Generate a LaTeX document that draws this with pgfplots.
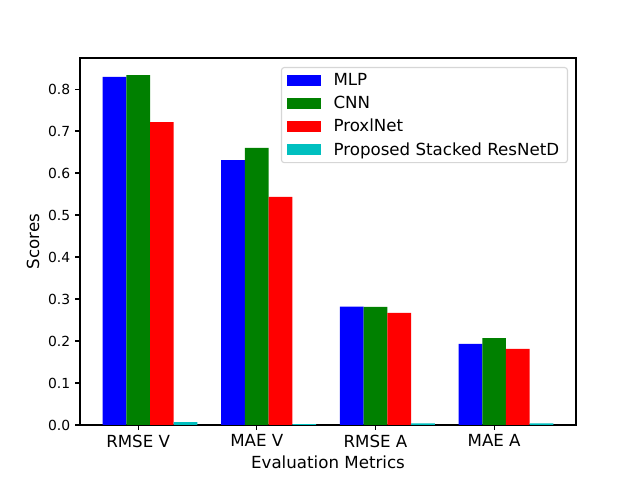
\documentclass[border=0pt]{standalone}
\usepackage{pgfplots}
\pgfplotsset{compat=1.18}
\usepackage{fontspec}
\setmainfont{DejaVu Sans}
\definecolor{mplc}{RGB}{0,191,191}
\definecolor{mplg}{RGB}{0,128,0}
\definecolor{legframe}{RGB}{214,214,214}
\begin{document}
\begin{tikzpicture}
\path[use as bounding box] (-57.6pt,-38.16pt) rectangle (403.2pt,306pt);
\begin{axis}[
  at={(0,0)}, anchor=south west,
  scale only axis, width=357.12pt, height=264.24pt,
  xmin=-0.49, xmax=3.69, ymin=0, ymax=0.874,
  xtick={0,1,2,3}, xticklabels={RMSE V, MAE V, RMSE A, MAE A},
  ytick={0,0.1,...,0.8},
  yticklabel style={/pgf/number format/fixed, /pgf/number format/fixed zerofill, /pgf/number format/precision=1, font=\fontsize{10}{12}\selectfont},
  /pgf/number format/assume math mode=true,
  xticklabel style={font=\fontsize{12}{14}\selectfont},
  tick align=outside, tick pos=left,
  major tick length=3.5pt,
  every tick/.style={black, line width=0.8pt},
  axis line style={line width=0.8pt},
  xlabel={Evaluation Metrics}, ylabel={Scores},
  label style={font=\fontsize{12}{14}\selectfont},
  xlabel style={at={(axis description cs:0.5,-0.1008)}, anchor=center},
  ylabel style={at={(axis description cs:-0.0948,0.5)}, anchor=center},
  ybar, bar width=0.2,
  every axis plot/.append style={draw=none, bar shift=0pt},
  legend style={at={(0.9839,0.9755)}, anchor=north east,
    font=\fontsize{12}{14}\selectfont, draw=legframe, rounded corners=2pt,
    line width=0.8pt, inner xsep=4pt, inner ysep=2pt, row sep=2.2pt,
    nodes={inner sep=2pt}},
  legend cell align=left,
  legend image code/.code={\fill[#1,sharp corners] (0pt,-4pt) rectangle (24.5pt,4pt); \path (31.5pt,0pt);},
]
\addplot[fill=blue] coordinates {(-0.2,0.829) (0.8,0.631) (1.8,0.282) (2.8,0.193)};
\addplot[fill=mplg] coordinates {(0,0.833) (1,0.660) (2,0.281) (3,0.207)};
\addplot[fill=red] coordinates {(0.2,0.721) (1.2,0.543) (2.2,0.267) (3.2,0.181)};
\addplot[fill=mplc] coordinates {(0.4,0.007) (1.4,0.002) (2.4,0.004) (3.4,0.004)};
\legend{MLP, CNN, ProxlNet, Proposed Stacked ResNetD}
\end{axis}
\end{tikzpicture}
\end{document}
